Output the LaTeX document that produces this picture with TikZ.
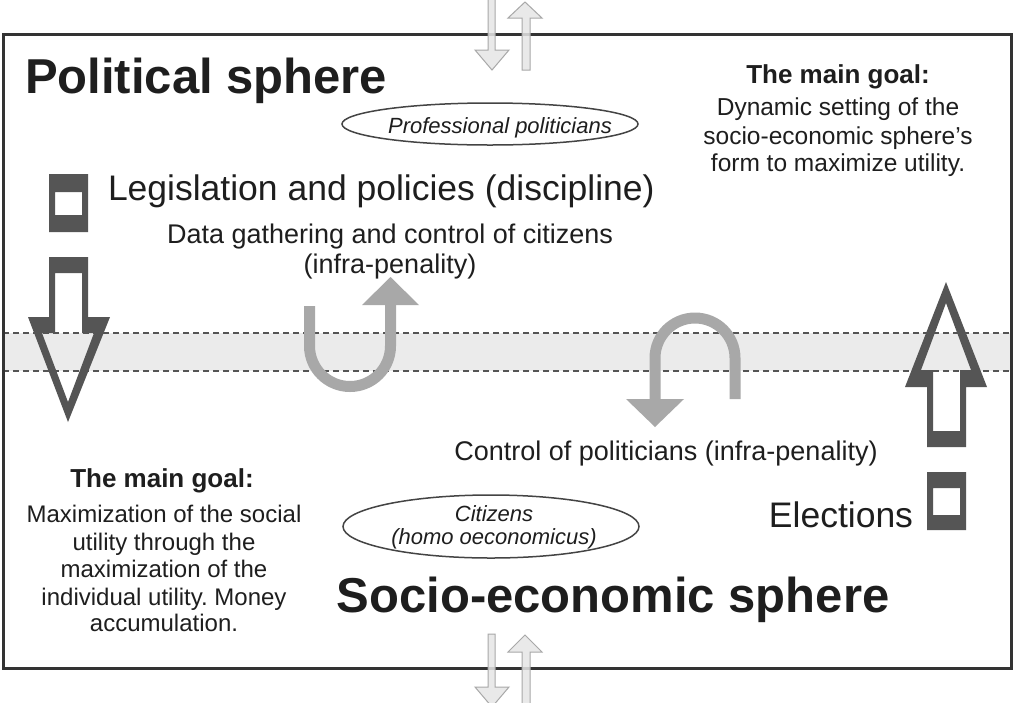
\documentclass[tikz,border=0pt]{standalone}
\usepackage{fontspec}
\setmainfont{Liberation Sans}
\usetikzlibrary{shapes.geometric}
\definecolor{txtc}{HTML}{1E1E1E}
\definecolor{darkc}{HTML}{555555}
\definecolor{ugc}{HTML}{A8A8A8}
\definecolor{bandc}{HTML}{EBEBEB}
\definecolor{lightc}{HTML}{E6E6E6}
\definecolor{framec}{HTML}{333333}
\definecolor{ovalc}{HTML}{444444}
\frenchspacing
\begin{document}
\begin{tikzpicture}[x=1pt,y=-1pt,
  lbl/.style={text=txtc, inner sep=0pt, outer sep=0pt},
  bigtitle/.style={lbl, anchor=base, font=\fontsize{49}{53}\selectfont\bfseries},
  goaltitle/.style={lbl, anchor=base, font=\fontsize{26}{30}\selectfont\bfseries},
  rgoal/.style={lbl, anchor=base, font=\fontsize{24.5}{28}\selectfont},
  lgoal/.style={lbl, anchor=base, font=\fontsize{24}{27}\selectfont},
  midtxt/.style={lbl, anchor=base, font=\fontsize{27}{30}\selectfont},
  bigtxt/.style={lbl, anchor=base, font=\fontsize{35.5}{40}\selectfont},
  ovaltxt/.style={lbl, anchor=base, font=\fontsize{22}{26}\selectfont\itshape},
  oval/.style={ellipse, draw=ovalc, line width=1.5pt, inner sep=0pt},
  bigarrow/.style={fill=darkc, even odd rule},
  uarrow/.style={draw=ugc, line width=11pt},
  uhead/.style={fill=ugc},
  smallarr/.style={fill=lightc, draw=ugc, line width=1pt, fill opacity=0.85},
  dashln/.style={draw=darkc, line width=1.1pt, dash pattern=on 6pt off 4pt}
]
\useasboundingbox (0,0) rectangle (1014,702);
\fill[white] (0,0) rectangle (1014,702);

% band
\fill[bandc] (3,333) rectangle (1011,371);
\draw[dashln] (3,333) -- (1011,333);
\draw[dashln] (3,371) -- (1011,371);

% U arrows
\draw[uarrow] (309.5,306) -- (309.5,346) arc[start angle=180, end angle=0, radius=40.5] -- (390.5,304);
\fill[uhead] (362,305) -- (419,305) -- (390.5,277) -- cycle;
\draw[uarrow] (735,399) -- (735,358) arc[start angle=0, end angle=-180, radius=40] -- (655,400);
\fill[uhead] (626,399) -- (684,399) -- (655,427) -- cycle;

% big arrows
\fill[bigarrow] (49,174) rectangle (88,232) (55,192) rectangle (82,215);
\fill[bigarrow] (49,257) -- (88,257) -- (88,317) -- (110,317) -- (68,422) -- (28,317) -- (49,317) -- cycle
  (55,273) -- (82,273) -- (82,333) -- (94,333) -- (68,402) -- (42,333) -- (55,333) -- cycle;
\fill[bigarrow] (927,447) -- (966,447) -- (966,387) -- (987,387) -- (946,282) -- (905,387) -- (927,387) -- cycle
  (933,431) -- (960,431) -- (960,370) -- (971,370) -- (946,303) -- (921,370) -- (933,370) -- cycle;
\fill[bigarrow] (927,472) rectangle (966,530) (933,488) rectangle (960,515);

% frame
\draw[framec, line width=3pt] (3,34) rectangle (1011,668);

% small arrows top and bottom
\draw[smallarr] (488,-2) -- (495,-2) -- (495,50) -- (509,50) -- (492,70) -- (475,50) -- (488,50) -- cycle;
\draw[smallarr] (522,70) -- (530,70) -- (530,18) -- (542,18) -- (525,2) -- (508,18) -- (522,18) -- cycle;
\draw[smallarr] (488,634) -- (495,634) -- (495,687) -- (509,687) -- (492,707) -- (475,687) -- (488,687) -- cycle;
\draw[smallarr] (522,706) -- (530,706) -- (530,652) -- (542,652) -- (525,635) -- (508,652) -- (522,652) -- cycle;

% ovals
\node[oval, minimum width=296pt, minimum height=42pt] (profoval) at (490,124) {};
\node[ovaltxt] (prof) at (500,133) {Professional politicians};
\node[oval, minimum width=296pt, minimum height=63pt] (citoval) at (491,526.5) {};
\node[ovaltxt] (cit1) at (494,521) {Citizens};
\node[ovaltxt] (cit2) at (494,544) {(homo oeconomicus)};

% titles
\node[bigtitle, anchor=base west] (pol) at (25,93) {Political sphere};
\node[bigtitle] (soc) at (613,612) {Socio-economic sphere};

% right goal
\node[goaltitle] (rg0) at (838,83) {The main goal:};
\node[rgoal] (rg1) at (838,115.5) {Dynamic setting of the};
\node[rgoal] (rg2) at (838,144) {socio-economic sphere’s};
\node[rgoal] (rg3) at (838,171.5) {form to maximize utility.};

% left goal
\node[goaltitle] (lg0) at (162,487) {The main goal:};
\node[lgoal] (lg1) at (164,522) {Maximization of the social};
\node[lgoal] (lg2) at (164,550) {utility through the};
\node[lgoal] (lg3) at (164,577) {maximization of the};
\node[lgoal] (lg4) at (164,605) {individual utility. Money};
\node[lgoal] (lg5) at (164,631) {accumulation.};

% middle texts
\node[bigtxt, anchor=base west] (leg) at (108,200) {Legislation and policies (discipline)};
\node[midtxt] (data1) at (390,243) {Data gathering and control of citizens};
\node[midtxt] (data2) at (390,273) {(infra-penality)};
\node[midtxt] (ctrl) at (666,460) {Control of politicians (infra-penality)};
\node[bigtxt, anchor=base east] (elec) at (913,527) {Elections};
\end{tikzpicture}
\end{document}
